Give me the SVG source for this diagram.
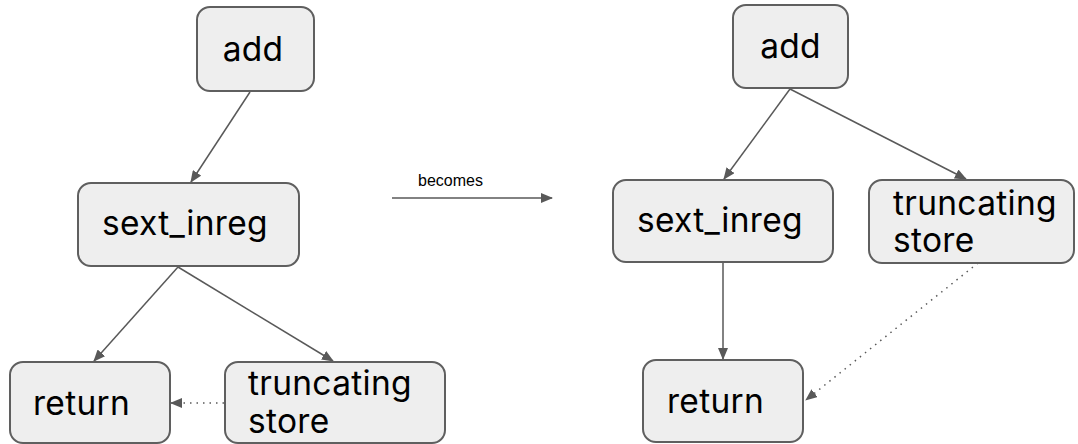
<svg xmlns="http://www.w3.org/2000/svg" width="1078" height="444" viewBox="0 0 1078 444">
<style>
.box{fill:#eeeeee;stroke:#5f5f5f;stroke-width:2}
.lbl{font-family:Inter,"Noto Sans",sans-serif;font-size:33.5px;fill:#000;letter-spacing:0.3px}
.sm{font-family:"Liberation Sans",Arial,sans-serif;font-size:16px;fill:#000}
.ln{stroke:#595959;stroke-width:1.5;fill:none}
.dot{stroke:#595959;stroke-width:1.5;fill:none;stroke-dasharray:1.5 5}
</style>
<defs>
<marker id="ah" markerWidth="12" markerHeight="10" refX="11" refY="5" orient="auto" markerUnits="userSpaceOnUse">
<path d="M0,0 L12,5 L0,10 Z" fill="#595959"/>
</marker>
</defs>
<rect width="1078" height="444" fill="#ffffff"/>
<g id="connectors">
<line class="ln" x1="250" y1="92" x2="191" y2="182" marker-end="url(#ah)"/>
<line class="ln" x1="178" y1="267" x2="94" y2="361" marker-end="url(#ah)"/>
<line class="ln" x1="178" y1="267" x2="333" y2="361" marker-end="url(#ah)"/>
<line class="dot" x1="224" y1="403" x2="171" y2="403" marker-end="url(#ah)"/>
<line class="ln" x1="392" y1="198" x2="552" y2="198" marker-end="url(#ah)"/>
<line class="ln" x1="790" y1="89" x2="724" y2="179" marker-end="url(#ah)"/>
<line class="ln" x1="790" y1="89" x2="966" y2="179" marker-end="url(#ah)"/>
<line class="ln" x1="723" y1="263" x2="723" y2="359" marker-end="url(#ah)"/>
<line class="dot" x1="978" y1="263" x2="806" y2="400" marker-end="url(#ah)"/>
</g>
<text class="sm" x="418" y="186">becomes</text>
<g id="n-add-l"><rect class="box" x="197" y="7" width="117" height="84" rx="13"/><text class="lbl" x="253" y="61" text-anchor="middle">add</text></g>
<g id="n-sext-l"><rect class="box" x="78" y="183" width="221" height="83" rx="13"/><text class="lbl" x="102" y="235">sext_inreg</text></g>
<g id="n-return-l"><rect class="box" x="10" y="362" width="160" height="81" rx="13"/><text class="lbl" x="33" y="415">return</text></g>
<g id="n-trunc-l"><rect class="box" x="225" y="362" width="220" height="81" rx="13"/><text class="lbl" x="248" y="395">truncating</text><text class="lbl" x="248" y="433">store</text></g>
<g id="n-add-r"><rect class="box" x="733" y="5" width="115" height="83" rx="13"/><text class="lbl" x="790.5" y="58" text-anchor="middle">add</text></g>
<g id="n-sext-r"><rect class="box" x="613" y="180" width="220" height="82" rx="13"/><text class="lbl" x="637" y="232">sext_inreg</text></g>
<g id="n-trunc-r"><rect class="box" x="869" y="180" width="205" height="83" rx="13"/><text class="lbl" x="893" y="215">truncating</text><text class="lbl" x="893" y="252">store</text></g>
<g id="n-return-r"><rect class="box" x="643" y="360" width="160" height="82" rx="13"/><text class="lbl" x="667" y="413">return</text></g>
</svg>
